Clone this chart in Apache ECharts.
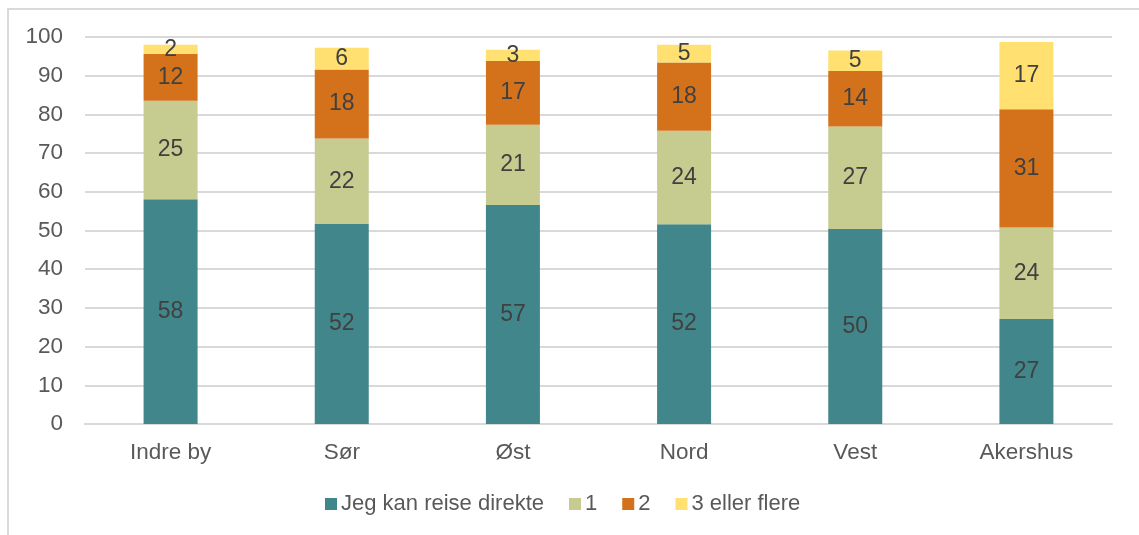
<!DOCTYPE html>
<html>
<head>
<meta charset="utf-8">
<script src="https://cdn.jsdelivr.net/npm/echarts@6/dist/echarts.min.js"></script>
<style>
  html, body { margin: 0; padding: 0; background: #fff; overflow: hidden; }
  #frame { position: absolute; left: 7px; top: 8px; width: 1200px; height: 600px; border: 2px solid #d9d9d9; box-sizing: border-box; }
  #chart { position: absolute; left: 0; top: 0; width: 1139px; height: 535px; }
</style>
</head>
<body>
<div id="frame"></div>
<div id="chart"></div>
<script>
// kategorier og serier (lest av bildet)
const categories = ['Indre by', 'Sør', 'Øst', 'Nord', 'Vest', 'Akershus'];
const seriesNames = ['Jeg kan reise direkte', '1', '2', '3 eller flere'];
const direkte = [58.1, 51.7, 56.6, 51.6, 50.4, 27.1];
const ett = [25.4, 22.1, 20.7, 24.2, 26.5, 23.7];
const to = [12.1, 17.8, 16.5, 17.6, 14.3, 30.5];
const treEllerFlere = [2.4, 5.6, 2.9, 4.6, 5.3, 17.4];
const yTicks = [0, 10, 20, 30, 40, 50, 60, 70, 80, 90, 100];

const colors = ['#40868a', '#c6cc8f', '#d4721b', '#ffe070'];
const font = 'Liberation Sans, Arial, sans-serif';

let chart = echarts.init(document.getElementById('chart'));

const makeSeries = (name, data, i) => ({
  name: name,
  type: 'bar',
  stack: 'total',
  barWidth: 54,
  data: data,
  itemStyle: { color: colors[i] },
  label: {
    show: true,
    position: 'inside',
    color: '#404040',
    fontFamily: font,
    fontSize: 23,
    formatter: p => Math.round(p.value),
  },
});

chart.setOption({
  animation: false,
  grid: { left: 85, right: 27, top: 37, bottom: 111 },
  xAxis: {
    type: 'category',
    data: categories,
    axisTick: { show: false },
    axisLine: { lineStyle: { color: '#d9d9d9', width: 2 } },
    axisLabel: { color: '#595959', fontFamily: font, fontSize: 22.5, margin: 17 },
  },
  yAxis: {
    type: 'value',
    min: yTicks[0],
    max: yTicks[yTicks.length - 1],
    interval: 10,
    axisLine: { show: false },
    axisTick: { show: false },
    splitLine: { lineStyle: { color: '#d9d9d9', width: 2 } },
    axisLabel: { color: '#595959', fontFamily: font, fontSize: 22.5, margin: 22 },
  },
  legend: {
    bottom: 15,
    left: 320,
    itemWidth: 12,
    itemHeight: 12,
    itemGap: 25,
    icon: 'rect',
    textStyle: { color: '#595959', fontFamily: font, fontSize: 22, padding: [0, 0, 0, -1] },
    data: seriesNames,
  },
  series: [
    makeSeries(seriesNames[0], direkte, 0),
    makeSeries(seriesNames[1], ett, 1),
    makeSeries(seriesNames[2], to, 2),
    makeSeries(seriesNames[3], treEllerFlere, 3),
  ],
});
</script>
</body>
</html>
